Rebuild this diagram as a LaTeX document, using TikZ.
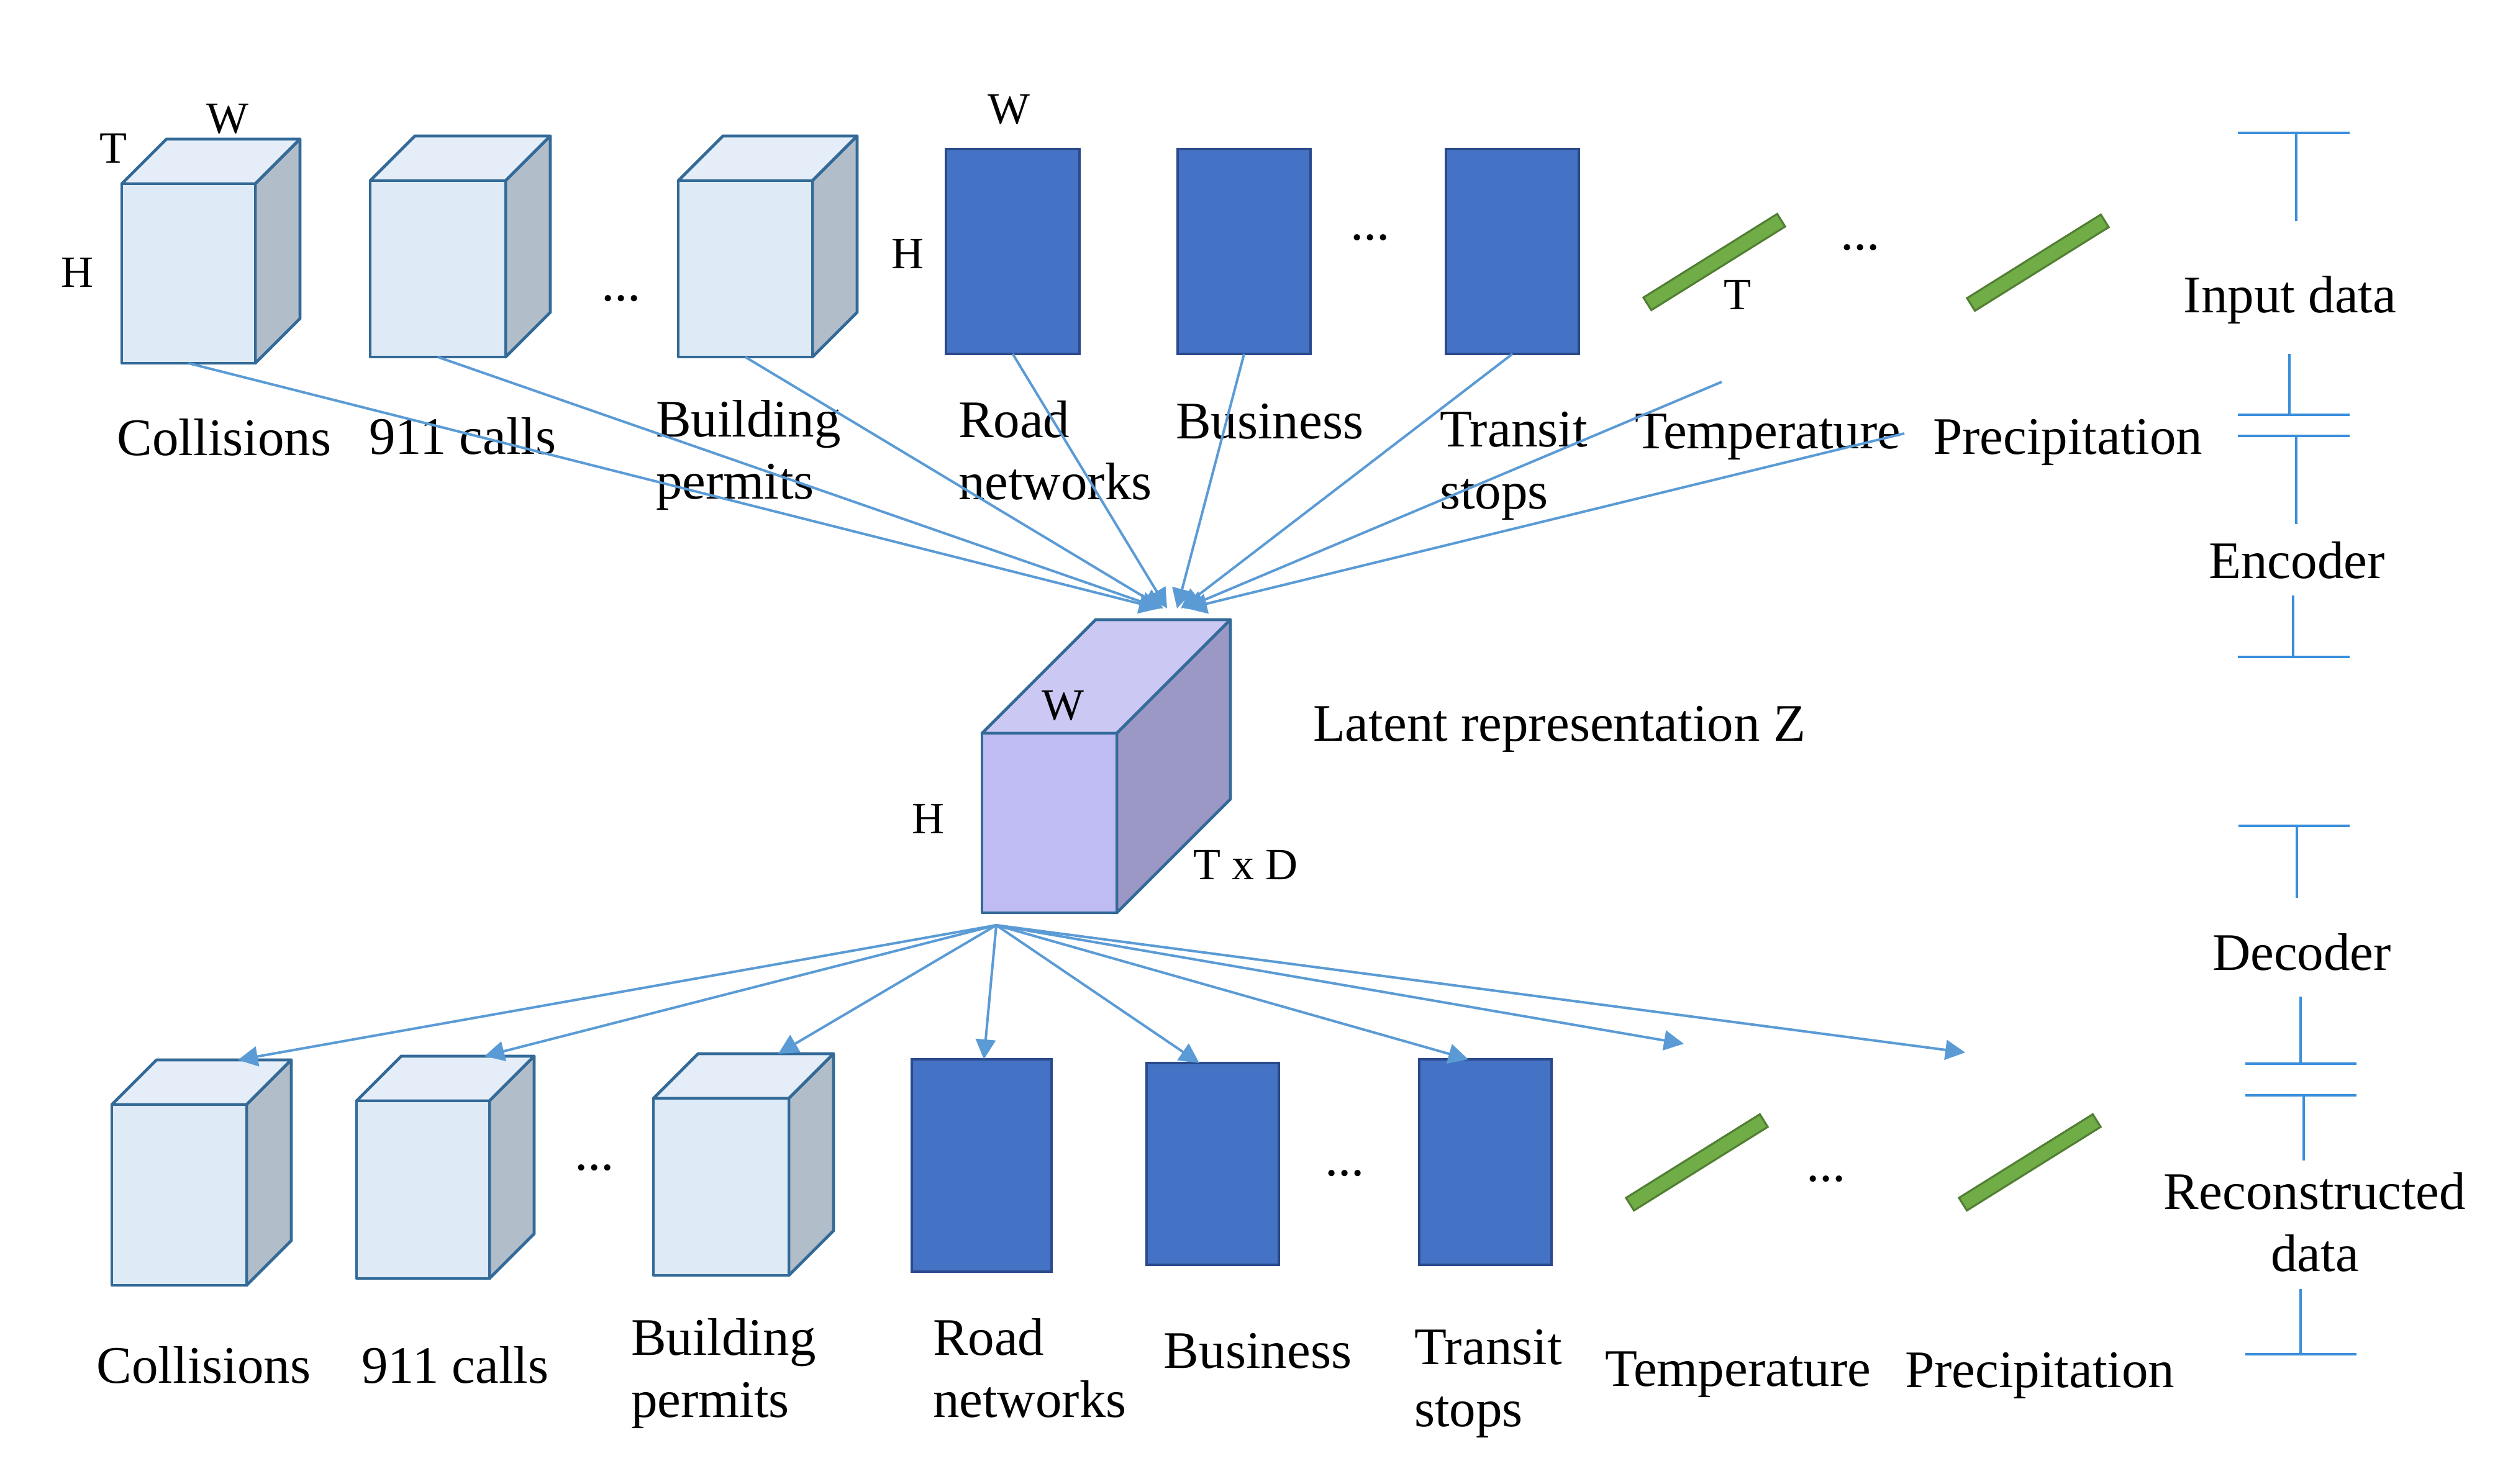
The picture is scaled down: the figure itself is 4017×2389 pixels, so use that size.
\documentclass[tikz,border=0pt]{standalone}
\usepackage{fontspec}
\setmainfont{Liberation Serif}
\usetikzlibrary{arrows.meta}
\definecolor{lcfrontc}{HTML}{DEEAF6}
\definecolor{lctopc}{HTML}{E5EEF8}
\definecolor{lcsidec}{HTML}{B1BDC9}
\definecolor{zcfrontc}{HTML}{BFBCF3}
\definecolor{zctopc}{HTML}{CBC9F4}
\definecolor{zcsidec}{HTML}{9B98C6}
\definecolor{cubeedge}{HTML}{336A98}
\definecolor{rectfill}{HTML}{4472C4}
\definecolor{rectedge}{HTML}{2B4A8B}
\definecolor{barfill}{HTML}{70AD47}
\definecolor{baredge}{HTML}{527F34}
\definecolor{connc}{HTML}{5B9BD5}
\definecolor{brackc}{HTML}{3A8EDB}
\def\unitpx{0.25pt}
\newcommand{\cubeshape}[7]{%
  \filldraw[#7top] (#2,#3) -- ++(#6,-#6) -- ++(#4,0) -- ++(-#6,#6) -- cycle;
  \filldraw[#7side] (#2+#4,#3) -- ++(#6,-#6) -- ++(0,#5) -- ++(-#6,#6) -- cycle;
  \node[#7front, anchor=north west, minimum width={#4*\unitpx}, minimum height={#5*\unitpx}] (#1) at (#2,#3) {};
}
\tikzset{
  edgeline/.style={draw=cubeedge, line width=1.2pt, line join=round},
  lctop/.style={edgeline, fill=lctopc},
  lcside/.style={edgeline, fill=lcsidec},
  lcfront/.style={edgeline, fill=lcfrontc, inner sep=0pt, outer sep=0pt},
  zctop/.style={edgeline, fill=zctopc},
  zcside/.style={edgeline, fill=zcsidec},
  zcfront/.style={edgeline, fill=zcfrontc, inner sep=0pt, outer sep=0pt},
  maprect/.style={draw=rectedge, line width=1pt, fill=rectfill, inner sep=0pt, outer sep=0pt, anchor=north west},
  tsbar/.style={draw=baredge, line width=0.8pt, fill=barfill, inner sep=0pt, outer sep=0pt,
    minimum height={24*\unitpx}, minimum width={254*\unitpx}, rotate=32},
  conn/.style={draw=connc, line width=1pt, -{Triangle[length=8pt,width=8pt]}},
  brack/.style={draw=brackc, line width=1.1pt},
  lbl/.style={inner sep=0pt, outer sep=0pt, font=\fontsize{21.25}{25}\selectfont},
  mlbl/.style={lbl, align=left, anchor=base west},
  dimlbl/.style={inner sep=0pt, outer sep=0pt, font=\fontsize{18}{21}\selectfont},
}
\begin{document}
\begin{tikzpicture}[x=0.25pt, y=-0.25pt]
\useasboundingbox (0,0) rectangle (4017,2389);
% ---------------- top row (input data) ----------------
\cubeshape{c1}{196}{296}{215}{289}{72}{lc}
\cubeshape{c2}{596}{291}{218}{284}{72}{lc}
\cubeshape{c3}{1092}{291}{216}{284}{72}{lc}
\node[maprect, minimum width={215*\unitpx}, minimum height={330*\unitpx}] (r1) at (1523,240) {};
\node[maprect, minimum width={214*\unitpx}, minimum height={330*\unitpx}] (r2) at (1896,240) {};
\node[maprect, minimum width={214*\unitpx}, minimum height={330*\unitpx}] (r3) at (2328,240) {};
\node[tsbar] (g1) at (2760,422) {};
\node[tsbar] (g2) at (3281,423) {};
% dimension labels
\node[dimlbl] (c1t) at (182,239) {T};
\node[dimlbl] (c1w) at (366,191) {W};
\node[dimlbl] (c1h) at (124,439) {H};
\node[dimlbl] (r1w) at (1624,176) {W};
\node[dimlbl] (r1h) at (1461,409) {H};
\node[dimlbl] (g1t) at (2797,475) {T};
% dots
\node[lbl, anchor=base] (d1) at (1000,484) {...};
\node[lbl, anchor=base] (d2) at (2206,386) {...};
\node[lbl, anchor=base] (d3) at (2995,402) {...};
% labels (multi-line labels are anchored at the baseline of their last line)
\node[lbl, anchor=base] (l1) at (361,733) {Collisions};
\node[lbl, anchor=base] (l2) at (745,731) {911 calls};
\node[mlbl] (l3) at (1056,803) {Building\\permits};
\node[mlbl] (l4) at (1543,804) {Road\\networks};
\node[lbl, anchor=base west] (l5) at (1893,706) {Business};
\node[mlbl] (l6) at (2318,819) {Transit\\stops};
\node[lbl, anchor=base west] (l7) at (2632,722) {Temperature};
\node[lbl, anchor=base west] (l8) at (3112,731) {Precipitation};
% ---------------- latent ----------------
\cubeshape{z}{1581}{1181}{217}{289}{183}{zc}
\node[dimlbl] (zw) at (1711,1136) {W};
\node[dimlbl] (zh) at (1494,1319) {H};
\node[dimlbl] (ztd) at (2005,1393) {T x D};
\node[lbl, anchor=base west] (zlab) at (2114,1193) {Latent representation Z};
% encoder connectors
\coordinate (s7) at (2772,615);
\coordinate (s8) at (3066,698);
\coordinate (t1) at (1866,980);
\coordinate (t2) at (1869,980);
\coordinate (t3) at (1873,980);
\coordinate (t4) at (1879,980);
\coordinate (t5) at (1895,980);
\coordinate (t6) at (1901,980);
\coordinate (t7) at (1906,980);
\coordinate (t8) at (1911,980);
\draw[conn] (c1.south) -- (t1);
\draw[conn] (c2.south) -- (t2);
\draw[conn] (c3.south) -- (t3);
\draw[conn] (r1.south) -- (t4);
\draw[conn] (r2.south) -- (t5);
\draw[conn] (r3.south) -- (t6);
\draw[conn] (s7) -- (t7);
\draw[conn] (s8) -- (t8);
% ---------------- bottom row (reconstructed) ----------------
\cubeshape{b1}{180}{1779}{217}{291}{72}{lc}
\cubeshape{b2}{574}{1773}{214}{286}{72}{lc}
\cubeshape{b3}{1052}{1769}{218}{285}{72}{lc}
\node[maprect, minimum width={225*\unitpx}, minimum height={342*\unitpx}] (br1) at (1468,1706) {};
\node[maprect, minimum width={213*\unitpx}, minimum height={325*\unitpx}] (br2) at (1846,1712) {};
\node[maprect, minimum width={213*\unitpx}, minimum height={331*\unitpx}] (br3) at (2285,1706) {};
\node[tsbar] (bg1) at (2732,1872) {};
\node[tsbar] (bg2) at (3268,1872) {};
\node[lbl, anchor=base] (bd1) at (957,1884) {...};
\node[lbl, anchor=base] (bd2) at (2165,1893) {...};
\node[lbl, anchor=base] (bd3) at (2940,1902) {...};
\node[lbl, anchor=base] (bl1) at (328,2227) {Collisions};
\node[lbl, anchor=base] (bl2) at (733,2227) {911 calls};
\node[mlbl] (bl3) at (1016,2282) {Building\\permits};
\node[mlbl] (bl4) at (1502,2282) {Road\\networks};
\node[lbl, anchor=base] (bl5) at (2025,2203) {Business};
\node[mlbl] (bl6) at (2277,2297) {Transit\\stops};
\node[lbl, anchor=base west] (bl7) at (2584,2232) {Temperature};
\node[lbl, anchor=base west] (bl8) at (3067,2234) {Precipitation};
% decoder connectors
\coordinate (zs) at (1604,1490);
\coordinate (e1) at (383,1707);
\coordinate (e2) at (780,1701);
\coordinate (e3) at (1253,1697);
\coordinate (e4) at (1584,1706);
\coordinate (e5) at (1931,1712);
\coordinate (e6) at (2364,1706);
\coordinate (e7) at (2711,1681);
\coordinate (e8) at (3164,1695);
\foreach \e in {e1,e2,e3,e4,e5,e6,e7,e8} \draw[conn] (zs) -- (\e);
% ---------------- right-hand brackets ----------------
\draw[brack] (3603,214) -- (3783,214) (3697,214) -- (3697,356);
\node[lbl, anchor=base] (inlab) at (3687,503) {Input data};
\draw[brack] (3686,570) -- (3686,668) (3603,668) -- (3783,668);
\draw[brack] (3603,702) -- (3783,702) (3697,702) -- (3697,844);
\node[lbl, anchor=base] (enclab) at (3698,931) {Encoder};
\draw[brack] (3692,959) -- (3692,1058) (3603,1058) -- (3783,1058);
\draw[brack] (3604,1330) -- (3783,1330) (3698,1330) -- (3698,1446);
\node[lbl, anchor=base] (declab) at (3706,1562) {Decoder};
\draw[brack] (3704,1605) -- (3704,1713) (3615,1713) -- (3794,1713);
\draw[brack] (3615,1764) -- (3794,1764) (3709,1764) -- (3709,1869);
\node[lbl, align=center, anchor=base] (reclab) at (3727,2047) {Reconstructed\\data};
\draw[brack] (3704,2076) -- (3704,2181) (3615,2181) -- (3794,2181);
\end{tikzpicture}
\end{document}
